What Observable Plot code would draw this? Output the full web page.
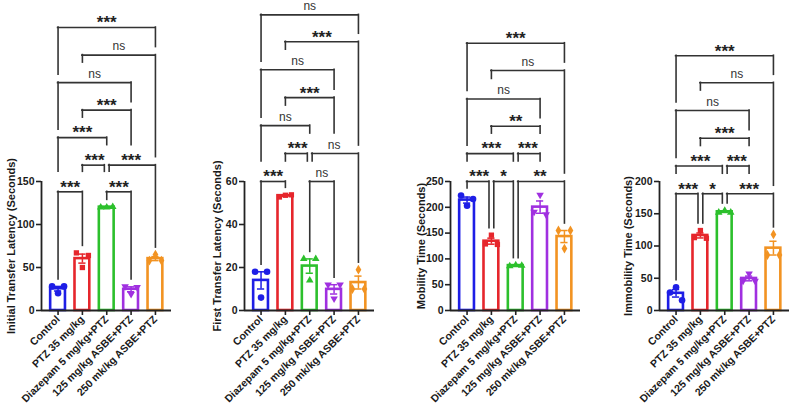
<!DOCTYPE html>
<html><head><meta charset="utf-8">
<script src="https://cdn.jsdelivr.net/npm/d3@7"></script>
<script src="https://cdn.jsdelivr.net/npm/@observablehq/plot@0.6"></script>
<style>
html,body{margin:0;padding:0;background:#fff;width:792px;height:406px;overflow:hidden;}
#root{position:relative;width:792px;height:406px;}
.panel{position:absolute;top:0;}
</style></head><body><div id="root"></div>
<script>
// ---------- data ----------
const groups = ["Control", "PTZ 35 mg/kg", "Diazepam 5 mg/kg+PTZ", "125 mg/kg ASBE+PTZ", "250 mk/kg ASBE+PTZ"];
const colors = ["#1e1ee6", "#e6262c", "#2cc02c", "#a030e0", "#f29322"];
const titles = ["Initial Transfer Latency (Seconds)", "First Transfer Latency (Seconds)", "Mobility Time (Seconds)", "Immobility Time (Seconds)"];
const yMax = [150, 60, 250, 200];
const yTicks = [[0, 50, 100, 150], [0, 20, 40, 60], [0, 50, 100, 150, 200, 250], [0, 50, 100, 150, 200]];

// replicate values per group (left, middle, right point)
const initialTransfer = [[28, 20, 28], [67, 50, 64], [120, 120, 120.5], [28, 19, 27], [58, 65, 58]];
const firstTransfer = [[18, 6, 18], [52.8, 53.6, 53.8], [24, 14, 24], [12, 5.5, 12], [10, 19, 10]];
const mobility = [[223, 203, 216], [129, 146, 128], [86, 88, 87], [191, 224, 186], [155, 120, 155]];
const immobility = [[28, 36, 16], [113, 124, 112], [152, 155, 152], [46, 57, 46], [86, 118, 86]];

// bracket row heights (data units) and comparisons [groupA, groupB, row, label]
const levels1 = [138, 169, 201, 233, 265, 297, 329];
const levels2 = [60, 73, 86, 99, 112, 125, 137.5];
const levels3 = [250, 304, 357, 410, 465, 518];
const levels4 = [181, 224, 267, 310, 353, 395];
const comps1 = [[0,1,1,"***"],[2,3,1,"***"],[1,2,2,"***"],[2,4,2,"***"],[0,2,3,"***"],[1,3,4,"***"],[0,3,5,"ns"],[1,4,6,"ns"],[0,4,7,"***"]];
const comps2 = [[0,1,1,"***"],[2,3,1,"ns"],[1,2,2,"***"],[2,4,2,"ns"],[0,2,3,"ns"],[1,3,4,"***"],[0,3,5,"ns"],[1,4,6,"***"],[0,4,7,"ns"]];
const comps3 = [[0,1,1,"***"],[1,2,1,"*"],[2,4,1,"**"],[0,2,2,"***"],[2,3,2,"***"],[1,3,3,"**"],[0,3,4,"ns"],[1,4,5,"ns"],[0,4,6,"***"]];
const comps4 = [[0,1,1,"***"],[1,2,1,"*"],[2,4,1,"***"],[0,2,2,"***"],[2,3,2,"***"],[1,3,3,"***"],[0,3,4,"ns"],[1,4,5,"ns"],[0,4,6,"***"]];

const panelValues = [initialTransfer, firstTransfer, mobility, immobility];
const panelLevels = [levels1, levels2, levels3, levels4];
const panelComps = [comps1, comps2, comps3, comps4];

// ---------- layout ----------
const axisLeft = [41, 244, 450, 659];
const titleOffset = [-30, -27, -29, -31];
const ML = 50, MR = 10, MT = 181, MB = 96, H = 406, W = 190;
const XMIN = -0.68, XMAX = 4.66;
const pxPerUnit = (W - ML - MR) / (XMAX - XMIN);
const HW = 7.4 / pxPerUnit;       // bar half width
const CAP = 3.6 / pxPerUnit;      // error cap half width
const SPREAD = 6 / pxPerUnit;     // point spread
const SHIFT = 2.4 / pxPerUnit;    // shared bracket end offset
const FONT = "'Liberation Sans', Arial, Helvetica, sans-serif";

const downTriangle = {
  draw(ctx, size) {
    const a = Math.sqrt(4 * size / Math.sqrt(3));
    const h = Math.sqrt(3) / 2 * a;
    ctx.moveTo(0, 2 * h / 3);
    ctx.lineTo(a / 2, -h / 3);
    ctx.lineTo(-a / 2, -h / 3);
    ctx.closePath();
  }
};
const symbols = [d3.symbolCircle, d3.symbolSquare, d3.symbolTriangle, downTriangle, d3.symbolDiamond];
const symbolR = [3.3, 3.0, 2.8, 2.8, 3.0];

function makePanel(k) {
  const vals = panelValues[k];
  const summary = vals.map((v, i) => {
    const mean = d3.mean(v);
    const sem = d3.deviation(v) / Math.sqrt(v.length);
    return {i, mean, sem, top: Math.max(d3.max(v), mean + sem)};
  });
  const pts = vals.flatMap((v, i) => v.map((val, j) => ({i, j, val})));
  const ys = d3.scaleLinear().domain([0, yMax[k]]).range([H - MB, MT]);

  const brs = panelComps[k].map(([a, b, row, label]) => ({a, b, level: panelLevels[k][row - 1], label}));
  function legBottom(br, c) {
    let best = null;
    for (const o of brs) {
      if (o !== br && o.level < br.level && o.a <= c && c <= o.b) {
        if (!best || o.level > best.level) best = o;
      }
    }
    if (best) {
      const tc = (best.a + best.b) / 2;
      const gap = Math.abs(tc - c) <= 0.6 ? 20 : 8;
      return ys.invert(ys(best.level) - gap);
    }
    return ys.invert(ys(summary[c].top) - 7);
  }
  const horiz = [], legs = [], labels = [];
  for (const br of brs) {
    const sharedA = brs.some(o => o !== br && o.level === br.level && (o.a === br.a || o.b === br.a));
    const sharedB = brs.some(o => o !== br && o.level === br.level && (o.a === br.b || o.b === br.b));
    const xa = br.a + (sharedA ? SHIFT : 0);
    const xb = br.b - (sharedB ? SHIFT : 0);
    horiz.push({x1: xa, x2: xb, y: br.level});
    legs.push({x: xa, y1: br.level, y2: legBottom(br, br.a)});
    legs.push({x: xb, y1: br.level, y2: legBottom(br, br.b)});
    labels.push({x: (br.a + br.b) / 2, y: br.level, label: br.label});
  }

  const marks = [
    Plot.rect(summary, {x1: d => d.i - HW, x2: d => d.i + HW, y1: 0, y2: "mean", fill: "white", stroke: d => colors[d.i], strokeWidth: 2.6}),
    Plot.ruleX(summary, {x: "i", y1: d => d.mean - d.sem, y2: d => d.mean + d.sem, stroke: d => colors[d.i], strokeWidth: 1.5}),
    Plot.ruleY(summary, {y: d => d.mean + d.sem, x1: d => d.i - CAP, x2: d => d.i + CAP, stroke: d => colors[d.i], strokeWidth: 1.5}),
    Plot.ruleY(summary, {y: d => d.mean - d.sem, x1: d => d.i - CAP, x2: d => d.i + CAP, stroke: d => colors[d.i], strokeWidth: 1.5}),
    ...groups.map((g, gi) => Plot.dot(pts.filter(p => p.i === gi), {
      x: p => p.i + (p.j - 1) * SPREAD, y: "val", symbol: symbols[gi], r: symbolR[gi], fill: colors[gi], stroke: "none"
    })),
    Plot.ruleX([XMIN], {y1: 0, y2: yMax[k], stroke: "#222", strokeWidth: 1.8}),
    Plot.ruleY([0], {x1: XMIN, x2: XMAX, stroke: "#222", strokeWidth: 1.8}),
    Plot.axisY({ticks: yTicks[k], tickSize: 5, tickPadding: 2, stroke: "#222", strokeWidth: 1.6, fontSize: 10.5, fontWeight: "bold", fill: "#1a1a1a", label: null, tickFormat: d => String(d)}),
    Plot.axisX({ticks: [0, 1, 2, 3, 4], tickFormat: i => groups[i], tickRotate: -45, tickSize: 5, tickPadding: 2, stroke: "#222", strokeWidth: 1.6, fontSize: 10.5, fontWeight: "bold", fill: "#1a1a1a", label: null}),
    Plot.text([titles[k]], {text: d => d, frameAnchor: "left", rotate: -90, textAnchor: "middle", lineAnchor: "middle", dx: titleOffset[k], fontSize: 11, fontWeight: "bold", fill: "#1a1a1a"}),
    Plot.ruleY(horiz, {x1: "x1", x2: "x2", y: "y", stroke: "#333", strokeWidth: 1.6, strokeLinecap: "square"}),
    Plot.ruleX(legs, {x: "x", y1: "y1", y2: "y2", stroke: "#333", strokeWidth: 1.6, strokeLinecap: "square"}),
    Plot.text(labels.filter(d => d.label !== "ns"), {x: "x", y: "y", text: "label", fontSize: 17, fontWeight: "bold", fill: "#222", lineAnchor: "middle", dy: -4.6}),
    Plot.text(labels.filter(d => d.label === "ns"), {x: "x", y: "y", text: "label", fontSize: 12, fill: "#333", lineAnchor: "middle", dy: -8.5})
  ];

  const plot = Plot.plot({
    width: W, height: H,
    marginLeft: ML, marginRight: MR, marginTop: MT, marginBottom: MB,
    x: {type: "linear", domain: [XMIN, XMAX], axis: null},
    y: {type: "linear", domain: [0, yMax[k]], axis: null},
    style: {background: "transparent", overflow: "visible", fontFamily: FONT},
    marks
  });
  const div = document.createElement("div");
  div.className = "panel";
  div.style.left = (axisLeft[k] - ML) + "px";
  div.style.width = W + "px";
  div.appendChild(plot);
  document.getElementById("root").appendChild(div);
}
[0, 1, 2, 3].forEach(makePanel);
</script></body></html>
